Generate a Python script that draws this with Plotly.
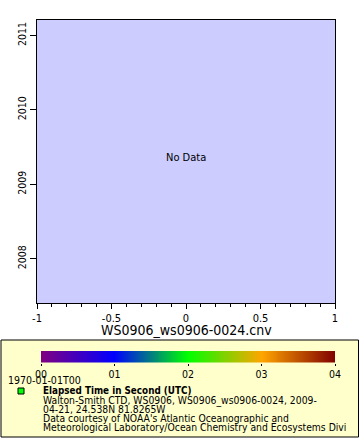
import plotly.graph_objects as go
import numpy as np

# Data (no data in this chart)
elapsed_times = []          # Elapsed Time in Second (UTC)
depths_x = []               # x values
dates_y = []                # y values (dates)

x_range = [-1, 1]
y_range = ["2007-05-29", "2011-03-18"]
x_tickvals = [-1, -0.5, 0, 0.5, 1]
x_ticktext = ["-1", "-0.5", "0", "0.5", "1"]
colorbar_ticks = [0, 1, 2, 3, 4]
colorbar_ticklabels = ["00", "01", "02", "03", "04"]
x_title = "WS0906_ws0906-0024.cnv"
legend_time = "1970-01-01T00"
legend_title = "Elapsed Time in Second (UTC)"
legend_lines = [
    "Walton-Smith CTD, WS0906, WS0906_ws0906-0024, 2009-",
    "04-21, 24.538N 81.8265W",
    "Data courtesy of NOAA's Atlantic Oceanographic and",
    "Meteorological Laboratory/Ocean Chemistry and Ecosystems Divi",
]

W, H = 360, 440
def px(x): return x / W
def py(y): return 1 - y / H

FONT = "DejaVu Sans Condensed, DejaVu Sans"
cscale = [[0, "#800080"], [0.25, "#0000ff"], [0.5, "#00ff00"], [0.75, "#ffa500"], [1, "#800000"]]

fig = go.Figure()
fig.add_trace(go.Scatter(x=depths_x, y=dates_y, mode="markers",
                         marker=dict(color="#00ff00"), showlegend=False))

# colorbar strip
cb_x = np.linspace(0, 4, 300)
fig.add_trace(go.Heatmap(x=cb_x, y=[0], z=[cb_x], colorscale=cscale, showscale=False,
                         xaxis="x2", yaxis="y2", hoverinfo="skip"))

fig.update_layout(
    width=W, height=H,
    margin=dict(l=0, r=0, t=0, b=0, autoexpand=False),
    paper_bgcolor="white",
    plot_bgcolor="#ccccff",
    font=dict(family=FONT, size=11, color="black"),
    showlegend=False,
    xaxis=dict(domain=[px(37), px(335)], range=x_range, anchor="y", automargin=False,
               tickvals=x_tickvals, ticktext=x_ticktext,
               ticks="outside", ticklen=5, tickcolor="black",
               minor=dict(dtick=0.1, ticks="outside", ticklen=3, tickcolor="black"),
               showline=True, linecolor="black", linewidth=1, mirror=True,
               showgrid=False, zeroline=False,
               tickfont=dict(size=11)),
    yaxis=dict(domain=[py(303), py(20)], range=y_range, type="date", anchor="x", automargin=False,
               tickformat="%Y", dtick="M12", tick0="2008-01-01",
               tickangle=-90, ticks="outside", ticklen=6, tickcolor="black",
               showline=True, linecolor="black", linewidth=1, mirror=True,
               showgrid=False, zeroline=False, tickfont=dict(size=10.5)),
    xaxis2=dict(domain=[px(41), px(335)], range=[0, 4], anchor="y2", automargin=False,
                tickvals=colorbar_ticks, ticktext=colorbar_ticklabels,
                ticks="outside", ticklen=2, tickcolor="black",
                showline=False, showgrid=False, zeroline=False, tickfont=dict(size=10.5)),
    yaxis2=dict(domain=[py(362.5), py(351)], range=[-0.5, 0.5], anchor="x2", automargin=False,
                showticklabels=False, showgrid=False, zeroline=False, ticks=""),
)

shapes = [
    dict(type="rect", xref="paper", yref="paper", x0=px(1), x1=px(358.5), y0=py(437), y1=py(340),
         fillcolor="#ffffcc", line=dict(color="black", width=1), layer="below"),
    dict(type="rect", xref="paper", yref="paper", x0=px(18), x1=px(24), y0=py(394), y1=py(388),
         fillcolor="#00ff00", line=dict(color="black", width=1)),
]
fig.update_layout(shapes=shapes)

ann = [
    dict(text="No Data", x=0, y=py(157), xref="x", yref="paper", showarrow=False,
         font=dict(size=11)),
    dict(text=x_title, x=0, y=py(330), xref="x", yref="paper", showarrow=False,
         yanchor="middle", font=dict(size=14)),
    dict(text=legend_time, x=px(6), y=py(380), xref="paper", yref="paper", xanchor="left",
         yanchor="middle", showarrow=False, font=dict(size=10.5)),
    dict(text="<b>" + legend_title + "</b>", x=px(41), y=py(390.5), xref="paper", yref="paper",
         xanchor="left", yanchor="middle", showarrow=False, font=dict(size=9.8)),
]
for i, line in enumerate(legend_lines):
    ann.append(dict(text=line, x=px(41), y=py(400.5 + 8.8 * i), xref="paper", yref="paper",
                    xanchor="left", yanchor="middle", showarrow=False, font=dict(size=10.3)))
fig.update_layout(annotations=ann)

fig.write_html("out.html", config={"displayModeBar": False},
               post_script="document.body.style.margin='0';")
